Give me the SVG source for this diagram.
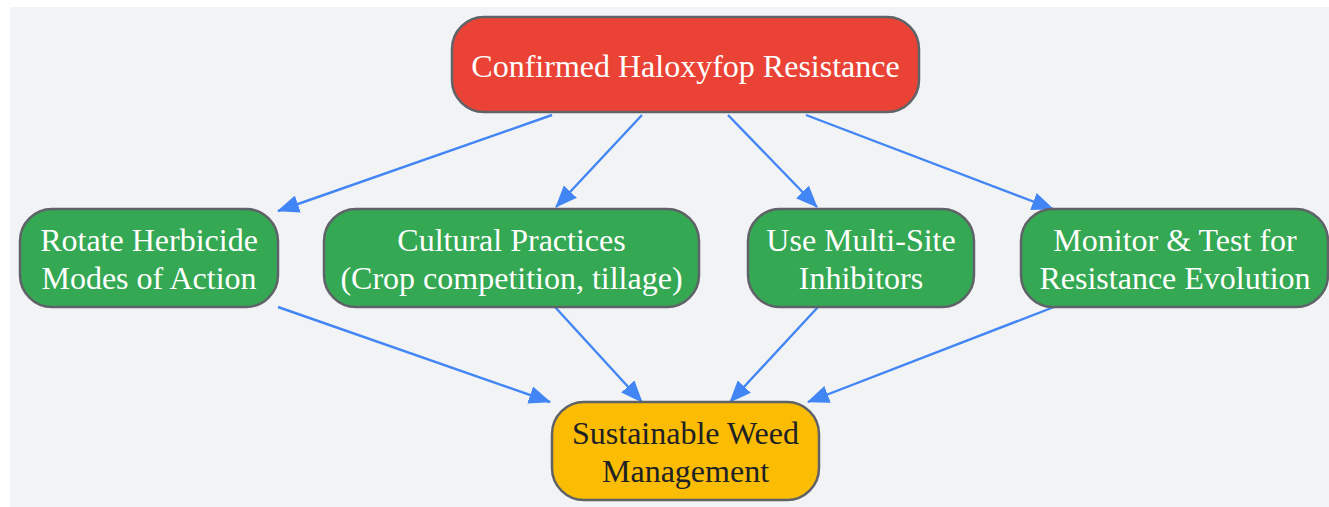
<svg xmlns="http://www.w3.org/2000/svg" width="1329" height="507" viewBox="0 0 1329 507">
<style>
.node rect{stroke:#5f6368;stroke-width:2.5}
.t{font-family:"Liberation Serif","Times New Roman",serif;font-size:32px;text-anchor:middle}
.w{fill:#ffffff}
.d{fill:#202124}
.e{stroke:#4285f4;stroke-width:2.4;fill:none;marker-end:url(#ah)}
</style>
<defs>
<marker id="ah" viewBox="0 0 22 18" refX="21" refY="9" markerWidth="22" markerHeight="18" markerUnits="userSpaceOnUse" orient="auto">
<path d="M0,0 L22,9 L0,18 z" fill="#4285f4"/>
</marker>
</defs>
<rect x="10" y="7" width="1319" height="500" fill="#f1f3f5"/>
<g id="connectors">
<path class="e" d="M552,115 L278,211"/>
<path class="e" d="M642,115 L556,207"/>
<path class="e" d="M728,115 L817,207"/>
<path class="e" d="M806,115 L1053,209"/>
<path class="e" d="M278,307 L550,402"/>
<path class="e" d="M555,307 L642,402"/>
<path class="e" d="M818,307 L730,402"/>
<path class="e" d="M1054,307 L808,402"/>
</g>
<g id="n1" class="node">
<rect x="452" y="17" width="467" height="95" rx="32" fill="#ea4335"/>
<text class="t w" x="685.5" y="77">Confirmed Haloxyfop Resistance</text>
</g>
<g id="n2" class="node">
<rect x="20" y="209" width="258" height="98" rx="32" fill="#34a853"/>
<text class="t w" x="149" y="251">Rotate Herbicide</text>
<text class="t w" x="149" y="289">Modes of Action</text>
</g>
<g id="n3" class="node">
<rect x="324" y="209" width="375" height="98" rx="32" fill="#34a853"/>
<text class="t w" x="511.5" y="251">Cultural Practices</text>
<text class="t w" x="511.5" y="289">(Crop competition, tillage)</text>
</g>
<g id="n4" class="node">
<rect x="748" y="209" width="226" height="98" rx="32" fill="#34a853"/>
<text class="t w" x="861" y="251">Use Multi-Site</text>
<text class="t w" x="861" y="289">Inhibitors</text>
</g>
<g id="n5" class="node">
<rect x="1021" y="209" width="307" height="98" rx="32" fill="#34a853"/>
<text class="t w" x="1175" y="251">Monitor &amp; Test for</text>
<text class="t w" x="1175" y="289">Resistance Evolution</text>
</g>
<g id="n6" class="node">
<rect x="552" y="402" width="267" height="98" rx="32" fill="#fbbc04"/>
<text class="t d" x="685.5" y="444">Sustainable Weed</text>
<text class="t d" x="685.5" y="482">Management</text>
</g>
</svg>
